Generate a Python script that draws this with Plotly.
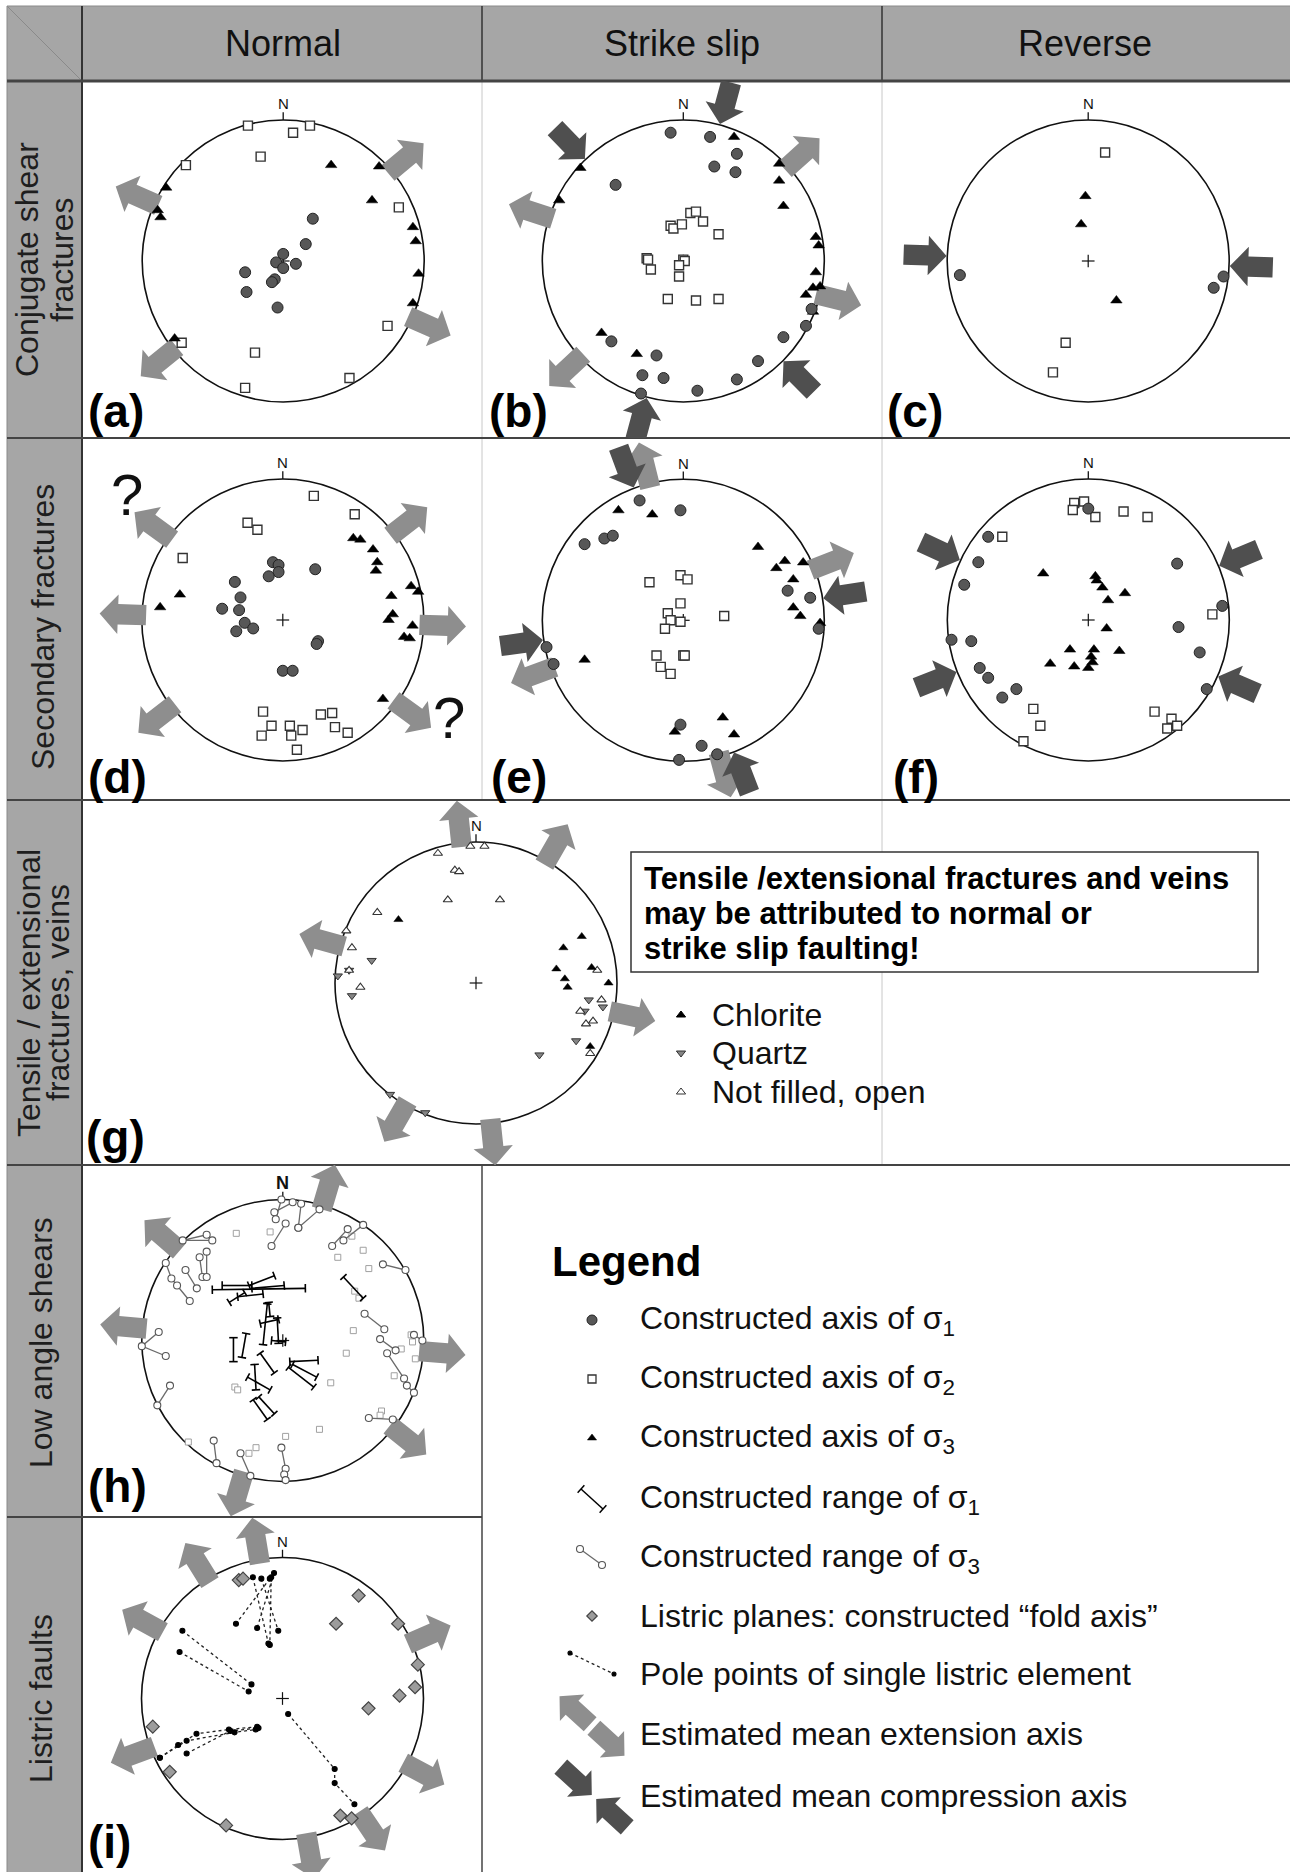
import math
import plotly.graph_objects as go

W, H = 1290, 1872
NET_R = 141  # pixels per net radius

# ===================== DATA (east, north in units of the net radius) =====================
# (a) conjugate shear fractures - normal
a_s1_x = [0.21, 0.16, 0.00, -0.05, 0.00, 0.09, -0.27, -0.06, -0.08, -0.26, -0.04]
a_s1_y = [0.30, 0.12, 0.05, -0.01, -0.05, -0.02, -0.08, -0.13, -0.15, -0.22, -0.33]
a_s2_x = [-0.25, 0.07, 0.19, -0.16, -0.69, 0.82, 0.74, -0.72, -0.20, 0.47, -0.27]
a_s2_y = [0.96, 0.91, 0.96, 0.74, 0.68, 0.38, -0.46, -0.58, -0.65, -0.83, -0.90]
a_s3_x = [-0.83, -0.89, -0.87, 0.34, 0.68, 0.63, 0.92, 0.94, 0.96, 0.92, -0.77]
a_s3_y = [0.52, 0.36, 0.31, 0.68, 0.67, 0.43, 0.24, 0.14, -0.09, -0.30, -0.55]
a_ext_az = [50, 294, 231, 114]
a_comp_az = []

# (b) conjugate shear fractures - strike slip
b_s1_x = [-0.09, 0.19, 0.38, 0.22, 0.37, -0.48, 0.71, 0.87, 0.91, -0.51, -0.19, -0.29, -0.14, 0.10, 0.38, 0.53, -0.30]
b_s1_y = [0.91, 0.88, 0.76, 0.67, 0.63, 0.54, -0.54, -0.46, -0.34, -0.57, -0.67, -0.81, -0.83, -0.92, -0.84, -0.71, -0.94]
b_s2_x = [-0.09, -0.07, -0.01, 0.05, 0.09, 0.14, 0.25, -0.26, -0.25, -0.23, 0.00, 0.01, -0.03, -0.03, -0.11, 0.09, 0.25]
b_s2_y = [0.25, 0.23, 0.26, 0.34, 0.35, 0.28, 0.19, 0.02, 0.01, -0.06, 0.01, 0.00, -0.03, -0.11, -0.27, -0.28, -0.27]
b_s3_x = [0.36, -0.73, -0.88, 0.68, 0.68, 0.71, 0.94, 0.96, 0.94, 0.97, 0.92, 0.87, 0.92, -0.58, -0.33]
b_s3_y = [0.88, 0.66, 0.43, 0.69, 0.57, 0.39, 0.17, 0.11, -0.08, -0.18, -0.19, -0.24, -0.36, -0.51, -0.66]
b_ext_az = [48, 288, 104, 227]
b_comp_az = [15, 316, 135, 195]

# (c) conjugate shear fractures - reverse
c_s1_x = [-0.91, 0.96, 0.89]
c_s1_y = [-0.10, -0.11, -0.19]
c_s2_x = [0.12, -0.16, -0.25]
c_s2_y = [0.77, -0.58, -0.79]
c_s3_x = [-0.02, -0.05, 0.20]
c_s3_y = [0.46, 0.26, -0.28]
c_ext_az = []
c_comp_az = [272, 92]

# (d) secondary fractures - normal
d_s1_x = [-0.07, -0.03, -0.03, -0.10, 0.23, -0.34, -0.30, -0.31, -0.43, -0.27, -0.21, -0.33, 0.25, 0.24, 0.00, 0.07]
d_s1_y = [0.41, 0.39, 0.34, 0.31, 0.36, 0.27, 0.16, 0.07, 0.08, -0.02, -0.06, -0.08, -0.15, -0.17, -0.36, -0.36]
d_s2_x = [0.22, 0.51, -0.25, -0.18, -0.71, -0.14, -0.08, -0.15, 0.05, 0.06, 0.14, 0.10, 0.27, 0.35, 0.37, 0.46]
d_s2_y = [0.88, 0.75, 0.69, 0.64, 0.44, -0.65, -0.75, -0.82, -0.75, -0.82, -0.78, -0.92, -0.67, -0.66, -0.76, -0.80]
d_s3_x = [0.50, 0.55, 0.64, 0.67, 0.66, 0.91, 0.96, 0.77, 0.78, 0.75, 0.92, 0.86, 0.90, -0.73, -0.87, 0.71]
d_s3_y = [0.58, 0.57, 0.50, 0.41, 0.35, 0.24, 0.20, 0.17, 0.04, 0.00, -0.04, -0.12, -0.13, 0.18, 0.09, -0.56]
d_ext_az = [306, 52, 272, 92, 232, 126]
d_comp_az = []
d_question_x = [-1.105, 1.18]
d_question_y = [0.887, -0.688]

# (e) secondary fractures - strike slip
e_s1_x = [-0.31, -0.02, -0.70, -0.56, -0.50, 0.74, 0.90, 0.96, -0.97, -0.92, -0.02, 0.13, 0.24, -0.03]
e_s1_y = [0.85, 0.78, 0.54, 0.58, 0.60, 0.21, 0.16, -0.06, -0.19, -0.31, -0.74, -0.89, -0.95, -0.99]
e_s2_x = [-0.24, -0.02, 0.03, -0.02, -0.11, -0.09, -0.02, -0.13, 0.29, -0.19, 0.00, 0.01, -0.16, -0.09]
e_s2_y = [0.27, 0.32, 0.29, 0.12, 0.05, 0.00, -0.01, -0.06, 0.03, -0.25, -0.25, -0.25, -0.33, -0.38]
e_s3_x = [-0.46, -0.22, 0.53, 0.72, 0.66, 0.85, 0.78, 0.78, 0.83, 0.97, -0.70, -0.06, 0.28, 0.36]
e_s3_y = [0.78, 0.75, 0.52, 0.42, 0.37, 0.41, 0.29, 0.09, 0.03, -0.02, -0.28, -0.79, -0.69, -0.81]
e_ext_az = [346, 165, 68.5, 250]
e_comp_az = [339.5, 159, 81, 262]

# (f) secondary fractures - reverse
f_s1_x = [0.00, -0.71, -0.78, -0.88, 0.63, 0.95, 0.64, -0.97, -0.83, -0.77, -0.71, -0.51, -0.61, 0.79, 0.84]
f_s1_y = [0.79, 0.59, 0.41, 0.25, 0.40, 0.10, -0.05, -0.14, -0.15, -0.34, -0.41, -0.49, -0.55, -0.23, -0.49]
f_s2_x = [-0.10, -0.03, -0.11, 0.05, 0.25, 0.42, -0.61, 0.88, -0.39, -0.34, -0.46, 0.47, 0.59, 0.56, 0.63]
f_s2_y = [0.83, 0.84, 0.78, 0.73, 0.77, 0.73, 0.59, 0.04, -0.63, -0.75, -0.86, -0.65, -0.70, -0.77, -0.75]
f_s3_x = [-0.32, 0.05, 0.06, 0.10, 0.14, 0.26, 0.13, -0.13, 0.04, 0.22, -0.27, -0.10, 0.03, 0.00, 0.02]
f_s3_y = [0.33, 0.31, 0.28, 0.23, 0.14, 0.19, -0.06, -0.21, -0.21, -0.22, -0.31, -0.33, -0.30, -0.34, -0.26]
f_ext_az = []
f_comp_az = [295, 67.5, 248.5, 113.5]

# (g) tensile / extensional fractures, veins
g_open_x = [-0.27, -0.04, 0.06, -0.15, -0.12, -0.20, 0.17, -0.70, -0.92, -0.88, -0.90, -0.82, 0.86, 0.89, 0.74, 0.78, 0.83, 0.81]
g_open_y = [0.92, 0.97, 0.97, 0.80, 0.79, 0.59, 0.59, 0.50, 0.37, 0.25, 0.09, -0.03, 0.09, -0.12, -0.20, -0.29, -0.27, -0.50]
g_chl_x = [-0.55, 0.75, 0.62, 0.57, 0.63, 0.65, 0.82, 0.94, 0.81]
g_chl_y = [0.45, 0.33, 0.25, 0.10, 0.03, -0.03, 0.11, 0.00, -0.45]
g_qtz_x = [-0.74, -0.90, -0.98, -0.88, 0.80, 0.77, 0.90, 0.71, 0.45, -0.61, -0.36]
g_qtz_y = [0.16, 0.09, 0.05, -0.09, -0.12, -0.20, -0.17, -0.41, -0.51, -0.79, -0.92]
g_ext_az = [354, 30, 285.5, 102, 210, 174]

# (h) low angle shears
h_s2_x = [-0.33, -0.09, 0.49, 0.57, 0.39, 0.61, 0.51, 0.54, 0.50, 0.45, 0.91, 0.92, 0.84, 0.94, 0.79,
          0.34, 0.26, 0.70, 0.69, 0.02, -0.67, -0.24, -0.19, -0.34, -0.32]
h_s2_y = [0.76, 0.77, 0.74, 0.64, 0.59, 0.51, 0.35, 0.30, 0.07, -0.09, 0.04, -0.01, -0.06, -0.13, -0.25,
          -0.30, -0.63, -0.50, -0.53, -0.68, -0.72, -0.80, -0.76, -0.33, -0.35]
h_s1_range = [
    [(-0.50, 0.36), (0.16, 0.37)], [(-0.43, 0.39), (-0.22, 0.39)], [(-0.22, 0.37), (0.01, 0.39)],
    [(-0.24, 0.39), (-0.06, 0.46)], [(-0.38, 0.27), (-0.27, 0.34)], [(-0.32, 0.31), (-0.14, 0.33)],
    [(-0.10, 0.27), (-0.09, 0.17)], [(0.43, 0.45), (0.57, 0.30)], [(-0.16, 0.12), (-0.03, 0.15)],
    [(-0.11, 0.26), (-0.14, -0.03)], [(-0.04, 0.16), (-0.03, -0.02)], [(-0.08, 0.00), (0.02, -0.01)],
    [(-0.35, 0.02), (-0.35, -0.15)], [(-0.26, 0.05), (-0.29, -0.12)], [(-0.16, -0.09), (-0.06, -0.23)],
    [(-0.20, -0.17), (-0.19, -0.35)], [(-0.25, -0.26), (-0.09, -0.35)], [(0.05, -0.15), (0.25, -0.14)],
    [(0.04, -0.19), (0.22, -0.33)], [(0.07, -0.17), (0.24, -0.26)], [(-0.21, -0.42), (-0.11, -0.56)],
    [(-0.17, -0.40), (-0.06, -0.52)],
]
h_s3_range = [
    [(0.07, 0.98), (-0.06, 0.91)], [(-0.01, 1.00), (-0.05, 0.86)], [(0.13, 0.97), (0.11, 0.80)],
    [(0.26, 0.93), (0.11, 0.80)], [(0.02, 0.83), (-0.08, 0.67)], [(0.57, 0.82), (0.43, 0.71)],
    [(0.46, 0.79), (0.35, 0.67)], [(0.71, 0.54), (0.87, 0.50)], [(0.58, 0.19), (0.72, 0.08)],
    [(0.69, 0.01), (0.80, -0.07)], [(0.74, -0.09), (0.86, -0.27), (0.88, -0.32), (0.93, -0.37)],
    [(0.93, 0.04), (0.99, 0.00)], [(0.61, -0.55), (0.78, -0.56)],
    [(-0.54, 0.75), (-0.71, 0.71), (-0.50, 0.71)], [(-0.59, 0.59), (-0.57, 0.45)],
    [(-0.54, 0.63), (-0.54, 0.45)], [(-0.83, 0.55), (-0.79, 0.44), (-0.75, 0.39), (-0.66, 0.28)],
    [(-0.69, 0.50), (-0.61, 0.37)], [(-0.88, 0.06), (-1.00, -0.04), (-0.83, -0.11)],
    [(-0.80, -0.32), (-0.89, -0.46)], [(-0.49, -0.71), (-0.47, -0.87)], [(-0.30, -0.80), (-0.23, -0.96)],
    [(-0.01, -0.76), (0.02, -0.91), (0.01, -0.95), (0.02, -0.99)],
]
h_ext_az = [311, 16.5, 275, 94.5, 128.5, 196.5]

# (i) listric faults
i_fold_x = [-0.31, -0.28, 0.54, 0.38, 0.82, 0.96, 0.94, 0.83, 0.61, -0.92, -0.80, 0.41, 0.49, -0.40]
i_fold_y = [0.84, 0.85, 0.73, 0.53, 0.53, 0.24, 0.08, 0.02, -0.07, -0.20, -0.52, -0.83, -0.85, -0.90]
i_poles = [
    [(-0.21, 0.86), (-0.10, 0.39)], [(-0.15, 0.85), (-0.03, 0.48)], [(-0.06, 0.89), (-0.18, 0.50)],
    [(-0.09, 0.85), (-0.33, 0.53)], [(-0.08, 0.86), (-0.09, 0.38)],
    [(-0.71, 0.48), (-0.22, 0.10)], [(-0.73, 0.33), (-0.24, 0.05)],
    [(-0.87, -0.42), (-0.74, -0.33), (-0.61, -0.25), (-0.38, -0.22), (-0.18, -0.20)],
    [(-0.87, -0.42), (-0.68, -0.30), (-0.34, -0.24), (-0.19, -0.22)],
    [(-0.68, -0.39), (-0.37, -0.23), (-0.17, -0.21)],
    [(0.04, -0.11), (0.37, -0.50), (0.37, -0.60), (0.51, -0.75)],
]
i_ext_az = [350.5, 328, 299, 66.5, 118, 146, 170, 249.5]

# ===================== TEXT =====================
col_titles = ["Normal", "Strike slip", "Reverse"]
row_titles = [["Conjugate shear", "fractures"], ["Secondary fractures"], ["Tensile / extensional", "fractures, veins"],
              ["Low angle shears"], ["Listric faults"]]
panel_letters = ["(a)", "(b)", "(c)", "(d)", "(e)", "(f)", "(g)", "(h)", "(i)"]
g_note_lines = ["Tensile /extensional fractures and veins", "may be attributed to normal or", "strike slip faulting!"]
g_legend_labels = ["Chlorite", "Quartz", "Not filled, open"]
legend_title = "Legend"
legend_labels = [
    "Constructed axis of σ<sub>1</sub>",
    "Constructed axis of σ<sub>2</sub>",
    "Constructed axis of σ<sub>3</sub>",
    "Constructed range of σ<sub>1</sub>",
    "Constructed range of σ<sub>3</sub>",
    "Listric planes: constructed \u201cfold axis\u201d",
    "Pole points of single listric element",
    "Estimated mean extension axis",
    "Estimated mean compression axis",
]

# ===================== STYLE / LAYOUT CONSTANTS =====================
FONT = "Liberation Sans, Arial, sans-serif"
GRAY_BG = "#a6a6a6"
EXT_C = "#8e8e8e"
COMP_C = "#4f4f4f"
S1_FILL = "#575757"
ROW_EDGES = [81, 438, 800, 1165, 1517, 1872]
COL_EDGES = [83, 482, 882, 1288]

fig = go.Figure()
shapes, annots, axes = [], [], {}


def pxx(x):
    return x / W


def pyy(y):
    return 1 - y / H


def paper_line(x0, y0, x1, y1, color, width):
    shapes.append(dict(type="line", xref="paper", yref="paper", x0=pxx(x0), y0=pyy(y0), x1=pxx(x1), y1=pyy(y1),
                       line=dict(color=color, width=width), layer="below"))


def paper_rect(x0, y0, x1, y1, fill, line_color=None, line_width=0):
    shapes.append(dict(type="rect", xref="paper", yref="paper", x0=pxx(x0), y0=pyy(y1), x1=pxx(x1), y1=pyy(y0),
                       fillcolor=fill, line=dict(color=line_color or fill, width=line_width), layer="below"))


def paper_text(x, y, text, size, xanchor="center", angle=0, color="#111", bold=False):
    annots.append(dict(xref="paper", yref="paper", x=pxx(x), y=pyy(y), text=f"<b>{text}</b>" if bold else text,
                       showarrow=False, xanchor=xanchor, yanchor="middle", textangle=angle,
                       font=dict(family=FONT, size=size, color=color)))


def make_panel(idx, cell, center):
    L, T, Rr, B = cell
    cx, cy = center
    axes[f"xaxis{idx}"] = dict(domain=[L / W, Rr / W], range=[(L - cx) / NET_R, (Rr - cx) / NET_R],
                               visible=False, fixedrange=True, anchor=f"y{idx}")
    axes[f"yaxis{idx}"] = dict(domain=[1 - B / H, 1 - T / H], range=[(cy - B) / NET_R, (cy - T) / NET_R],
                               visible=False, fixedrange=True, anchor=f"x{idx}")
    return f"x{idx}", f"y{idx}"


def draw_net(xr, yr, bold_n=False):
    shapes.append(dict(type="circle", xref=xr, yref=yr, x0=-1, y0=-1, x1=1, y1=1,
                       line=dict(color="#111", width=1.6), layer="below"))
    shapes.append(dict(type="line", xref=xr, yref=yr, x0=0, y0=1, x1=0, y1=1.055,
                       line=dict(color="#111", width=1.3), layer="below"))
    for (x0, y0, x1, y1) in [(-0.045, 0, 0.045, 0), (0, -0.045, 0, 0.045)]:
        shapes.append(dict(type="line", xref=xr, yref=yr, x0=x0, y0=y0, x1=x1, y1=y1,
                           line=dict(color="#111", width=1.2), layer="below"))
    annots.append(dict(xref=xr, yref=yr, x=0, y=1.115, text="<b>N</b>" if bold_n else "N", showarrow=False,
                       font=dict(family=FONT, size=18 if bold_n else 15, color="#111")))


def block_arrow(x0, y0, x1, y1, shw, hhw, hl):
    dx, dy = x1 - x0, y1 - y0
    L = math.hypot(dx, dy)
    ux, uy = dx / L, dy / L
    px, py = -uy, ux
    hx, hy = x1 - ux * hl, y1 - uy * hl
    pts = [(x0 + px * shw, y0 + py * shw), (hx + px * shw, hy + py * shw), (hx + px * hhw, hy + py * hhw),
           (x1, y1), (hx - px * hhw, hy - py * hhw), (hx - px * shw, hy - py * shw),
           (x0 - px * shw, y0 - py * shw), (x0 + px * shw, y0 + py * shw)]
    return [p[0] for p in pts], [p[1] for p in pts]


def poly_trace(xs, ys, xr, yr, color):
    fig.add_trace(go.Scatter(x=xs, y=ys, xaxis=xr, yaxis=yr, mode="lines", fill="toself", fillcolor=color,
                             line=dict(width=0, color=color), hoverinfo="skip", showlegend=False))


def net_arrows(xr, yr, az_list, kind):
    for az in az_list:
        a = math.radians(az)
        ux, uy = math.sin(a), math.cos(a)
        if kind == "ext":
            r0, r1, col = 0.97, 1.30, EXT_C
        else:
            r0, r1, col = 1.31, 1.005, COMP_C
        xs, ys = block_arrow(r0 * ux, r0 * uy, r1 * ux, r1 * uy, 0.072, 0.14, 0.13)
        poly_trace(xs, ys, xr, yr, col)


def markers(xr, yr, xs, ys, symbol, size, fill, lc, lw):
    fig.add_trace(go.Scatter(x=xs, y=ys, xaxis=xr, yaxis=yr, mode="markers",
                             marker=dict(symbol=symbol, size=size, color=fill, line=dict(color=lc, width=lw)),
                             cliponaxis=False, hoverinfo="skip", showlegend=False))


def polylines(xr, yr, lines, lcolor, lwidth, dash, msym, msize, mfill, mline):
    xs, ys = [], []
    for pl in lines:
        xs += [p[0] for p in pl] + [None]
        ys += [p[1] for p in pl] + [None]
    fig.add_trace(go.Scatter(x=xs, y=ys, xaxis=xr, yaxis=yr, mode="lines+markers",
                             line=dict(color=lcolor, width=lwidth, dash=dash),
                             marker=dict(symbol=msym, size=msize, color=mfill, line=dict(color=mline, width=1.1)),
                             cliponaxis=False, hoverinfo="skip", showlegend=False))


def ibeams(xr, yr, segs, cap, color, width):
    xs, ys = [], []
    for (x0, y0), (x1, y1) in segs:
        dx, dy = x1 - x0, y1 - y0
        L = math.hypot(dx, dy)
        px, py = -dy / L * cap, dx / L * cap
        xs += [x0, x1, None, x0 - px, x0 + px, None, x1 - px, x1 + px, None]
        ys += [y0, y1, None, y0 - py, y0 + py, None, y1 - py, y1 + py, None]
    fig.add_trace(go.Scatter(x=xs, y=ys, xaxis=xr, yaxis=yr, mode="lines", line=dict(color=color, width=width),
                             cliponaxis=False, hoverinfo="skip", showlegend=False))


# ===================== TABLE FRAME =====================
paper_rect(7, 6, 1290, ROW_EDGES[0], GRAY_BG)
paper_rect(7, ROW_EDGES[0], 82, H, GRAY_BG)
paper_line(7, 6, 82, 81, "#8a8a8a", 1)
paper_line(7, 6, 1290, 6, "#8a8a8a", 1)
paper_line(7, 6, 7, H, "#8a8a8a", 1)
# light dividers inside rows
paper_line(482, 81, 482, 800, "#c8c8c8", 1)
paper_line(882, 81, 882, 1165, "#c8c8c8", 1)
# dark dividers
paper_line(482, 6, 482, 81, "#333", 1.5)
paper_line(882, 6, 882, 81, "#333", 1.5)
paper_line(82, 6, 82, H, "#333", 2)
for yv in ROW_EDGES[1:4]:
    paper_line(7, yv, 1290, yv, "#444", 2)
paper_line(7, ROW_EDGES[4], 482, ROW_EDGES[4], "#444", 2)
paper_line(482, 1165, 482, H, "#444", 1.5)
paper_line(7, 81, 1290, 81, "#444", 3)
# note box in row g
paper_rect(631, 852, 1258, 972, "white", "#333", 1.5)

# headers
for t, (c0, c1) in zip(col_titles, zip(COL_EDGES[:-1], COL_EDGES[1:])):
    paper_text((c0 + c1) / 2, 43, t, 36)
# row titles (rotated)
row_label_pos = [([27, 62], 260), ([43], 627), ([29, 58], 993), ([41], 1343), ([41], 1699)]
for lines, (xs, yc) in zip(row_titles, row_label_pos):
    for txt, xv in zip(lines, xs):
        paper_text(xv, yc, txt, 32, angle=-90, color="#1e1e1e")
# panel letters
letter_pos = [(86, 411), (487, 411), (885, 411), (86, 777), (489, 777), (891, 777), (84, 1137), (86, 1486), (86, 1842)]
for lt, (xv, yv) in zip(panel_letters, letter_pos):
    paper_text(xv, yv, lt, 46, xanchor="left", bold=True, color="#000")

# ===================== OVERLAY AXIS (pixel units, for legends) =====================
axes["xaxis"] = dict(domain=[0, 1], range=[0, W], visible=False, fixedrange=True)
axes["yaxis"] = dict(domain=[0, 1], range=[H, 0], visible=False, fixedrange=True)

# ===================== STANDARD PANELS a-f =====================
std_panels = [
    (2, (83, 81, 482, 438), (283.2, 261), a_s1_x, a_s1_y, a_s2_x, a_s2_y, a_s3_x, a_s3_y, a_ext_az, a_comp_az),
    (3, (482, 81, 882, 438), (683.3, 261), b_s1_x, b_s1_y, b_s2_x, b_s2_y, b_s3_x, b_s3_y, b_ext_az, b_comp_az),
    (4, (882, 81, 1288, 438), (1088.2, 261), c_s1_x, c_s1_y, c_s2_x, c_s2_y, c_s3_x, c_s3_y, c_ext_az, c_comp_az),
    (5, (83, 438, 482, 800), (282.8, 620), d_s1_x, d_s1_y, d_s2_x, d_s2_y, d_s3_x, d_s3_y, d_ext_az, d_comp_az),
    (6, (482, 438, 882, 800), (683.3, 620.3), e_s1_x, e_s1_y, e_s2_x, e_s2_y, e_s3_x, e_s3_y, e_ext_az, e_comp_az),
    (7, (882, 438, 1288, 800), (1088.3, 620), f_s1_x, f_s1_y, f_s2_x, f_s2_y, f_s3_x, f_s3_y, f_ext_az, f_comp_az),
]
for (idx, cell, center, s1x, s1y, s2x, s2y, s3x, s3y, ext, comp) in std_panels:
    xr, yr = make_panel(idx, cell, center)
    draw_net(xr, yr)
    net_arrows(xr, yr, ext, "ext")
    net_arrows(xr, yr, comp, "comp")
    markers(xr, yr, s2x, s2y, "square", 9, "white", "#333", 1.4)
    markers(xr, yr, s3x, s3y, "triangle-up", 10, "#000", "#000", 0.5)
    markers(xr, yr, s1x, s1y, "circle", 11, S1_FILL, "#222", 1)
    if idx == 5:
        for qx, qy in zip(d_question_x, d_question_y):
            annots.append(dict(xref=xr, yref=yr, x=qx, y=qy, text="?", showarrow=False,
                               font=dict(family=FONT, size=58, color="#111")))

# ===================== PANEL g =====================
xr, yr = make_panel(8, (83, 800, 882, 1165), (476, 983))
draw_net(xr, yr)
net_arrows(xr, yr, g_ext_az, "ext")
markers(xr, yr, g_qtz_x, g_qtz_y, "triangle-down", 8, "#858585", "#333", 1)
markers(xr, yr, g_open_x, g_open_y, "triangle-up", 8, "white", "#333", 1.1)
markers(xr, yr, g_chl_x, g_chl_y, "triangle-up", 8, "#000", "#000", 0.5)
for k, line in enumerate(g_note_lines):
    paper_text(642, 878 + 35 * k, line, 31, xanchor="left", bold=True, color="#000")
g_leg_y = [1015, 1053, 1092]
g_leg_sym = [("triangle-up", "#000", "#000"), ("triangle-down", "#858585", "#333"), ("triangle-up", "white", "#333")]
for (sym, fc, lc), yv, lab in zip(g_leg_sym, g_leg_y, g_legend_labels):
    markers("x", "y", [681], [yv], sym, 8, fc, lc, 1)
    paper_text(710, yv, lab, 32, xanchor="left", color="#111")

# ===================== PANEL h =====================
xr, yr = make_panel(9, (83, 1165, 482, 1517), (282.8, 1340.5))
draw_net(xr, yr, bold_n=True)
net_arrows(xr, yr, h_ext_az, "ext")
markers(xr, yr, h_s2_x, h_s2_y, "square", 6, "white", "#a0a0a0", 1)
polylines(xr, yr, h_s3_range, "#6a6a6a", 1.3, "solid", "circle", 7, "white", "#555")
ibeams(xr, yr, h_s1_range, 0.03, "#000", 1.6)

# ===================== PANEL i =====================
xr, yr = make_panel(10, (83, 1517, 482, 1872), (282.5, 1698.5))
draw_net(xr, yr)
net_arrows(xr, yr, i_ext_az, "ext")
polylines(xr, yr, i_poles, "#222", 1.3, "dot", "circle", 5, "#000", "#000")
markers(xr, yr, i_fold_x, i_fold_y, "diamond", 10, "#9c9c9c", "#444", 1.2)

# ===================== MAIN LEGEND =====================
LEG_SYM_X, LEG_TXT_X = 592, 638
legend_rows_y = [1320, 1379, 1438, 1499, 1558, 1616, 1674, 1734, 1796]
paper_text(550, 1261, legend_title, 42, xanchor="left", bold=True, color="#000")
for lab, yv in zip(legend_labels, legend_rows_y):
    paper_text(LEG_TXT_X, yv, lab, 32, xanchor="left", color="#111")
ly = legend_rows_y
markers("x", "y", [LEG_SYM_X], [ly[0]], "circle", 10, S1_FILL, "#222", 1)
markers("x", "y", [LEG_SYM_X], [ly[1]], "square", 8, "white", "#333", 1.3)
markers("x", "y", [LEG_SYM_X], [ly[2]], "triangle-up", 8, "#000", "#000", 0.5)
ibeams("x", "y", [[(LEG_SYM_X - 11, ly[3] - 10), (LEG_SYM_X + 11, ly[3] + 10)]], 5, "#000", 1.5)
polylines("x", "y", [[(LEG_SYM_X - 12, ly[4] - 9), (LEG_SYM_X + 10, ly[4] + 7)]], "#6a6a6a", 1.3, "solid",
          "circle", 7, "white", "#555")
markers("x", "y", [LEG_SYM_X], [ly[5]], "diamond", 8, "#9c9c9c", "#444", 1.2)
polylines("x", "y", [[(LEG_SYM_X - 22, ly[6] - 21), (LEG_SYM_X + 22, ly[6])]], "#222", 1.3, "dot",
          "circle", 4, "#000", "#000")
dxn, dyn = 0.738, 0.675
cx7, cy7 = LEG_SYM_X, ly[7] - 8
for sgn in (-1, 1):
    xs, ys = block_arrow(cx7 + sgn * 2.5 * dxn, cy7 + sgn * 2.5 * dyn, cx7 + sgn * 44 * dxn, cy7 + sgn * 44 * dyn,
                         9.5, 18, 17)
    poly_trace(xs, ys, "x", "y", EXT_C)
cx8, cy8 = LEG_SYM_X + 2, ly[8] + 1
for sgn in (-1, 1):
    xs, ys = block_arrow(cx8 + sgn * 45 * dxn, cy8 + sgn * 45 * dyn, cx8 + sgn * 3 * dxn, cy8 + sgn * 3 * dyn,
                         9.5, 18, 17)
    poly_trace(xs, ys, "x", "y", COMP_C)

fig.update_layout(width=W, height=H, margin=dict(l=0, r=0, t=0, b=0), paper_bgcolor="white",
                  plot_bgcolor="rgba(0,0,0,0)", showlegend=False, shapes=shapes, annotations=annots, **axes)
fig.write_html("out.html", config={"displayModeBar": False, "staticPlot": True},
               post_script="document.body.style.margin='0px';")
